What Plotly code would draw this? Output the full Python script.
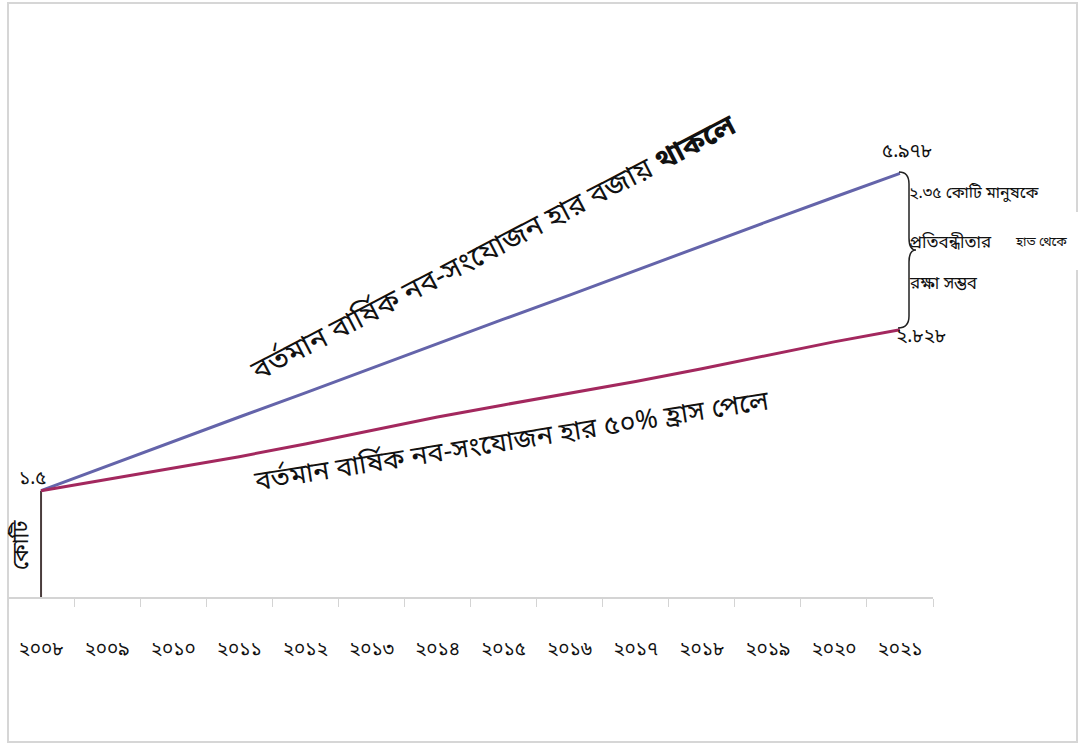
import plotly.graph_objects as go

# ---- data ----
years = ["২০০৮", "২০০৯", "২০১০", "২০১১", "২০১২", "২০১৩", "২০১৪",
         "২০১৫", "২০১৬", "২০১৭", "২০১৮", "২০১৯", "২০২০", "২০২১"]
current_rate = [1.50, 1.85, 2.19, 2.54, 2.88, 3.23, 3.57,
                3.92, 4.26, 4.61, 4.95, 5.30, 5.64, 5.978]
halved_rate = [1.50, 1.66, 1.82, 1.98, 2.16, 2.35, 2.54,
               2.71, 2.87, 3.04, 3.22, 3.41, 3.60, 3.77]
start_label = "১.৫"
end_label_current = "৫.৯৭৮"
end_label_halved = "২.৮২৮"
unit_label = "কোটি"
label_current = "বর্তমান বার্ষিক নব-সংযোজন হার বজায় <b>থাকলে</b>"
label_halved = "বর্তমান বার্ষিক নব-সংযোজন হার ৫০% হ্রাস পেলে"
note_lines = ["২.৩৫ কোটি মানুষকে", "প্রতিবন্ধীতার", "রক্ষা সম্ভব"]
note_hidden = "হাত থেকে"

W, H = 1087, 745
L, R, T, B = 8, 933, 30, 597  # plot area in pixels

FONT = "Noto Sans Bengali, Noto Sans, Lohit Bengali, sans-serif"


def px(x):
    return (x - L) / (R - L)


def py(y):
    return (B - y) / (B - T)


fig = go.Figure()

# drop line at first year
fig.add_trace(go.Scatter(x=[years[0], years[0]], y=[0, current_rate[0]],
                         mode="lines", line=dict(color="#4a3c3c", width=2),
                         hoverinfo="skip", showlegend=False))
fig.add_trace(go.Scatter(x=years, y=current_rate, mode="lines",
                         line=dict(color="#6464aa", width=3), showlegend=False))
fig.add_trace(go.Scatter(x=years, y=halved_rate, mode="lines",
                         line=dict(color="#a3285e", width=3), showlegend=False))

ann = []


def add_text(text, x, y, size=15, angle=0, xanchor="center", bg=None):
    d = dict(text=text, x=px(x), y=py(y), xref="paper", yref="paper",
             showarrow=False, textangle=angle, xanchor=xanchor, yanchor="middle",
             font=dict(family=FONT, size=size, color="#111111"))
    if bg:
        d["bgcolor"] = bg
    ann.append(d)


add_text(start_label, 33, 479, 19)
add_text(unit_label, 22, 545, 22, angle=-90)
add_text(end_label_current, 907, 152, 19)
add_text(end_label_halved, 921, 337, 19)
add_text(note_lines[0], 907, 194, 16, xanchor="left")
add_text(note_lines[1], 907, 243, 17, xanchor="left")
add_text(note_lines[2], 907, 284, 17, xanchor="left")
add_text(label_current, 495, 249, 29, angle=-27.5)
add_text(label_halved, 511, 442, 27, angle=-9)

shapes = []
# outer frame
shapes.append(dict(type="rect", xref="paper", yref="paper",
                   x0=px(8), x1=px(1077), y0=py(742), y1=py(3),
                   line=dict(color="#d6d6d6", width=2), layer="below"))
# white box over note
shapes.append(dict(type="rect", xref="paper", yref="paper",
                   x0=px(1006), x1=px(1080), y0=py(270), y1=py(212),
                   fillcolor="white", line=dict(width=0)))
add_text(note_hidden, 1041, 242, 13)

# brace
pts = [(899, 172), (909, 172), (909, 184), (909, 238), (909, 250), (916, 250),
       (909, 250), (909, 262), (909, 316), (909, 328), (898, 328)]
P = [(px(a), py(b)) for a, b in pts]
path = ("M {0[0]},{0[1]} Q {1[0]},{1[1]} {2[0]},{2[1]} L {3[0]},{3[1]} "
        "Q {4[0]},{4[1]} {5[0]},{5[1]} Q {6[0]},{6[1]} {7[0]},{7[1]} "
        "L {8[0]},{8[1]} Q {9[0]},{9[1]} {10[0]},{10[1]}").format(*P)
shapes.append(dict(type="path", xref="paper", yref="paper", path=path,
                   line=dict(color="#222222", width=1.5)))

fig.update_layout(
    width=W, height=H,
    margin=dict(l=L, r=W - R, t=T, b=H - B),
    paper_bgcolor="white", plot_bgcolor="white",
    annotations=ann, shapes=shapes,
    xaxis=dict(type="category", categoryorder="array", categoryarray=years,
               range=[-0.5, len(years) - 0.5], showgrid=False, zeroline=False,
               showline=True, linecolor="#d4d4d4", linewidth=2,
               ticks="outside", tickson="boundaries", ticklen=8,
               tickcolor="#d4d4d4", tickwidth=1, ticklabelstandoff=33,
               tickfont=dict(family=FONT, size=19, color="#111111")),
    yaxis=dict(range=[0, 8], visible=False),
)

fig.write_html("out.html")
